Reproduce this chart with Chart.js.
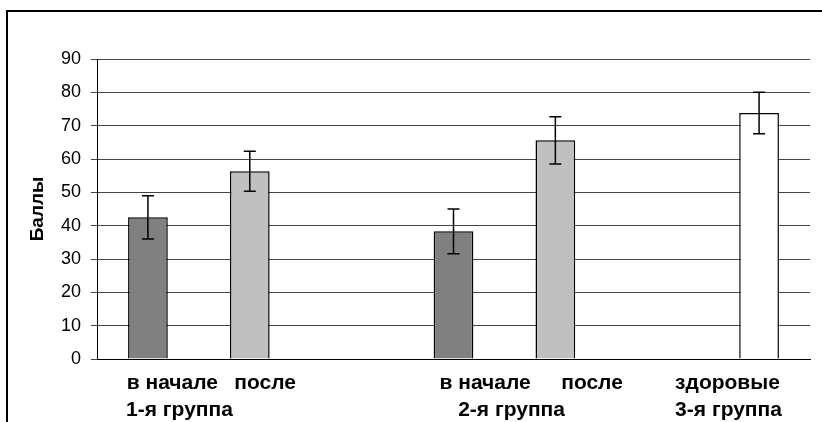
<!DOCTYPE html>
<html>
<head>
<meta charset="utf-8">
<script src="https://cdn.jsdelivr.net/npm/chart.js@4.4.1/dist/chart.umd.min.js"></script>
<style>
    html, body { margin: 0; padding: 0; background: #fff; }
    #wrap { position: relative; width: 822px; height: 422px; overflow: hidden; }
    #frame { position: absolute; left: 6px; top: 10px; width: 900px; height: 500px;
             border-top: 2px solid #000; border-left: 2px solid #000; pointer-events: none; }
    canvas { position: absolute; left: 0; top: 0; }
</style>
</head>
<body>
<div id="wrap">
    <canvas id="chart" width="822" height="422"></canvas>
    <div id="frame"></div>
</div>
<script>
// данные
const categories = ['в начале', 'после', '', 'в начале', 'после', '', 'здоровые'];
const means = [42.5, 56.3, null, 38.3, 65.6, null, 73.8];
const errors = [6.5, 6.0, null, 6.7, 7.1, null, 6.2];
const barColors = ['#808080', '#c0c0c0', '#ffffff', '#808080', '#c0c0c0', '#ffffff', '#ffffff'];
const yTicks = [0, 10, 20, 30, 40, 50, 60, 70, 80, 90];

// подписи под столбиками (в оригинале сдвинуты относительно столбиков)
const subLabels = ['в начале', 'после', 'в начале', 'после', 'здоровые'];
const subLabelPos = [0.24, 1.15, 3.31, 4.36, 5.69];
const groupLabels = ['1-я группа', '2-я группа', '3-я группа'];
const groupLabelPos = [0.31, 3.57, 5.70];

const labelFont = { family: 'Arial, "Liberation Sans", sans-serif', size: 21, weight: 'bold' };

// усы ошибок
const errorBarsPlugin = {
    id: 'errorBars',
    afterDatasetsDraw(chart) {
        const ctx = chart.ctx;
        const yScale = chart.scales.y;
        const meta = chart.getDatasetMeta(0);
        ctx.save();
        ctx.strokeStyle = '#000';
        ctx.lineWidth = 1.5;
        meta.data.forEach((bar, i) => {
            if (means[i] == null) return;
            const top = yScale.getPixelForValue(means[i] + errors[i]);
            const bottom = yScale.getPixelForValue(means[i] - errors[i]);
            ctx.beginPath();
            ctx.moveTo(bar.x, top);
            ctx.lineTo(bar.x, bottom);
            ctx.moveTo(bar.x - 6, top);
            ctx.lineTo(bar.x + 6, top);
            ctx.moveTo(bar.x - 6, bottom);
            ctx.lineTo(bar.x + 6, bottom);
            ctx.stroke();
        });
        ctx.restore();
    }
};

// ось только для подписей: те же -0.5..6.5, что и у категорий
function labelAxis(positions, texts, padding, height) {
    return {
        type: 'linear',
        position: 'bottom',
        min: -0.5,
        max: 6.5,
        offset: false,
        bounds: 'data',
        grid: { display: false, drawTicks: false, offset: false },
        border: { display: false },
        afterBuildTicks: (s) => { s.ticks = positions.map(v => ({ value: v })); },
        ticks: {
            autoSkip: false,
            maxRotation: 0,
            padding: padding,
            color: '#000',
            font: labelFont,
            callback: (value, index) => texts[index]
        },
        afterFit: (s) => { s.height = height; }
    };
}

const ctx = document.getElementById('chart').getContext('2d');
new Chart(ctx, {
    type: 'bar',
    data: {
        labels: categories,
        datasets: [{
            data: means,
            backgroundColor: barColors,
            borderColor: '#000',
            borderWidth: 1.5,
            barPercentage: 0.39,
            categoryPercentage: 1.0
        }]
    },
    options: {
        responsive: false,
        animation: false,
        devicePixelRatio: 1,
        layout: { padding: { left: 0, right: 12, top: 59, bottom: 0 } },
        plugins: {
            legend: { display: false },
            tooltip: { enabled: false }
        },
        scales: {
            x: {
                position: 'bottom',
                offset: true,
                grid: { display: false, drawTicks: false },
                border: { display: true, color: '#000', width: 1 },
                ticks: { display: false },
                afterFit: (s) => { s.height = 0; }
            },
            xSub: labelAxis(subLabelPos, subLabels, 12, 35),
            xGroup: labelAxis(groupLabelPos, groupLabels, 4, 28),
            y: {
                min: 0,
                max: 90,
                afterBuildTicks: (s) => { s.ticks = yTicks.map(v => ({ value: v })); },
                grid: { color: '#444', lineWidth: 1, tickLength: 6, tickColor: '#444' },
                border: { display: true, color: '#000', width: 1 },
                ticks: {
                    padding: 10,
                    color: '#000',
                    font: { family: 'Arial, "Liberation Sans", sans-serif', size: 18 }
                },
                title: {
                    display: true,
                    text: 'Баллы',
                    color: '#000',
                    font: { family: 'Arial, "Liberation Sans", sans-serif', size: 19, weight: 'bold' },
                    padding: { top: 26, bottom: 0 }
                },
                afterFit: (s) => { s.width = 97; }
            }
        }
    },
    plugins: [errorBarsPlugin]
});
</script>
</body>
</html>
